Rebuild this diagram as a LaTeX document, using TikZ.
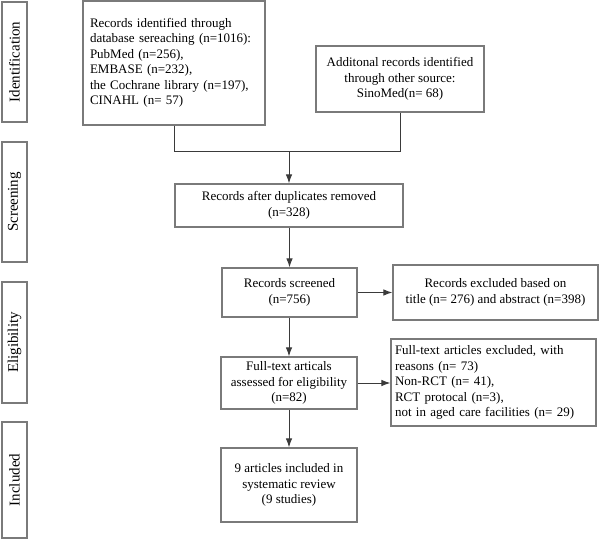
\documentclass[tikz,border=0pt]{standalone}
\usepackage{fontspec}
\setmainfont{Liberation Serif}
\usetikzlibrary{arrows.meta}
\definecolor{boxline}{HTML}{7A7A7A}
\definecolor{conline}{HTML}{3A3A3A}
\begin{document}
\begin{tikzpicture}[x=1pt,y=-1pt,
  box/.style={draw=boxline,line width=1.2pt,rectangle,inner sep=0pt,align=center,
    font=\fontsize{13}{15.5}\selectfont,text=black},
  lbox/.style={box,align=left},
  side/.style={draw=boxline,line width=1.2pt,rectangle,inner sep=0pt,minimum width=25pt},
  sidetext/.style={rotate=90,font=\fontsize{15}{17}\selectfont,inner sep=0pt},
  con/.style={draw=conline,line width=1pt},
  arr/.style={con,-{Latex[length=9pt,width=6.5pt]}}]
\useasboundingbox (0,0) rectangle (600,540);
% side labels
\node[side,minimum height=120pt] (sid) at (14.5,62) {};
\node[sidetext] (tid) at (sid.center) {Identification};
\node[side,minimum height=120pt] (ssc) at (14.5,202) {};
\node[sidetext] (tsc) at (ssc.center) {Screening};
\node[side,minimum height=121pt] (sel) at (14.5,342.5) {};
\node[sidetext] (tel) at (sel.center) {Eligibility};
\node[side,minimum height=116pt] (sin) at (14.5,480) {};
\node[sidetext] (tin) at (sin.center) {Included};
% boxes
\node[lbox,minimum width=182pt,minimum height=124pt,text width=168pt] (b1) at (174,63)
 {Records identified through\\database sereaching (n=1016):\\PubMed (n=256),\\EMBASE (n=232),\\the Cochrane library (n=197),\\CINAHL (n= 57)};
\node[box,minimum width=168pt,minimum height=66pt] (b2) at (400,79)
 {Additonal records identified\\through other source:\\SinoMed(n= 68)};
\node[box,minimum width=228pt,minimum height=43pt] (b3) at (289,205.5)
 {Records after duplicates removed\\(n=328)};
\node[box,minimum width=135pt,minimum height=49pt] (b4) at (289.5,292.5)
 {Records screened\\(n=756)};
\node[box,minimum width=205pt,minimum height=55pt] (b5) at (495.5,292.5)
 {Records excluded based on\\title (n= 276) and abstract (n=398)};
\node[box,minimum width=136pt,minimum height=52pt] (b6) at (289,383)
 {Full-text articals\\assessed for eligibility\\(n=82)};
\node[lbox,minimum width=205pt,minimum height=87pt,text width=197pt] (b7) at (493.5,382.5)
 {Full-text articles excluded, with\\reasons (n= 73)\\Non-RCT (n= 41),\\RCT protocal (n=3),\\not in aged care facilities (n= 29)};
\node[box,minimum width=136pt,minimum height=74pt] (b8) at (289,485)
 {9 articles included in\\systematic review\\(9 studies)};
% connectors
\coordinate (j1) at (174,152);
\coordinate (j2) at (400,152);
\coordinate (j) at (289,152);
\draw[con] (b1.south) -- (j1) -- (j2) -- (b2.south);
\draw[arr] (j) -- (b3.north);
\draw[arr] (b3.south -| b4.north) -- (b4.north);
\draw[arr] (b4.east) -- (b5.west);
\draw[arr] (b4.south -| b6.north) -- (b6.north);
\draw[arr] (b6.east) -- (b6.east -| b7.west);
\draw[arr] (b6.south) -- (b8.north);
\end{tikzpicture}
\end{document}
